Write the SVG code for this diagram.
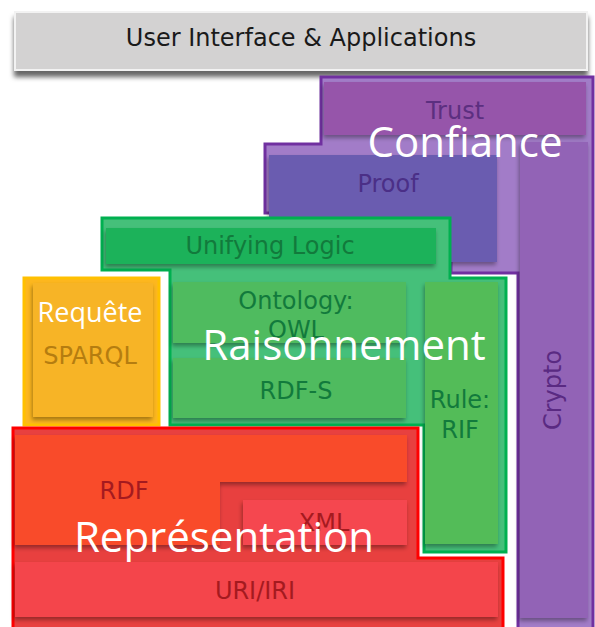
<svg xmlns="http://www.w3.org/2000/svg" width="595" height="627" viewBox="0 0 595 627">
<style>
.lbl{font-family:"DejaVu Sans",Verdana,sans-serif;font-size:24px;text-anchor:middle}
.big{font-family:"Open Sans","Noto Sans",sans-serif;font-size:42px;fill:#ffffff;text-anchor:middle}
.pur{fill:#5c2f80}
.grn{fill:#127a3c}
.red{fill:#a51a1f}
</style>
<defs>
<filter id="sh" x="-10%" y="-10%" width="120%" height="130%">
<feDropShadow dx="-1" dy="3" stdDeviation="2" flood-color="#000" flood-opacity="0.35"/>
</filter>
<filter id="shg" x="-5%" y="-20%" width="110%" height="160%">
<feDropShadow dx="0" dy="6" stdDeviation="2.5" flood-color="#000" flood-opacity="0.6"/>
</filter>
</defs>
<rect width="595" height="627" fill="#ffffff"/>

<g id="ui">
<rect x="15" y="12" width="572" height="58" fill="#d3d2d2" stroke="#f2f2f2" stroke-width="2" filter="url(#shg)"/>
<text x="301" y="46" class="lbl" style="font-size:24px" fill="#1a1a1a">User Interface &amp; Applications</text>
</g>

<g id="confiance">
<polygon points="321,77 593,77 593,630 518,630 518,273 451,273 451,213 265,213 265,144 321,144" fill="#a27cc8" stroke="#7030a0" stroke-width="3"/>
<rect id="trust" x="324" y="82" width="262" height="53" fill="#9655aa" filter="url(#sh)"/>
<rect id="crypto" x="520" y="142" width="68" height="476" fill="#9264b6" filter="url(#sh)"/>
<rect id="proof" x="269" y="155" width="228" height="107" fill="#6b5cb0" filter="url(#sh)"/>
<text x="455" y="119" class="lbl pur">Trust</text>
<text x="388" y="192" class="lbl" fill="#4b2f87">Proof</text>
<text transform="translate(561,390) rotate(-90)" class="lbl" fill="#5a2a82">Crypto</text>
<text x="465" y="157" class="big">Confiance</text>
</g>

<g id="raisonnement">
<polygon points="102,218 450,218 450,278 506,278 506,552 424,552 424,425 170,425 170,270 102,270" fill="#45c07a" stroke="#00b050" stroke-width="3"/>
<rect id="logic" x="106" y="228" width="330" height="36" fill="#1fb25a" filter="url(#sh)"/>
<rect id="owl" x="173" y="282" width="233" height="61" fill="#4fbb5e" filter="url(#sh)"/>
<rect id="rdfs" x="173" y="358" width="233" height="60" fill="#4fbb5e" filter="url(#sh)"/>
<rect id="rif" x="425" y="282" width="73" height="262" fill="#52bc58" filter="url(#sh)"/>
<text x="270" y="254" class="lbl grn">Unifying Logic</text>
<text x="296" y="309" class="lbl grn">Ontology:</text>
<text x="296" y="338" class="lbl grn">OWL</text>
<text x="296" y="399" class="lbl grn">RDF-S</text>
<text x="460" y="408" class="lbl grn">Rule:</text>
<text x="460" y="438" class="lbl grn">RIF</text>
<text x="344" y="360" class="big">Raisonnement</text>
</g>

<g id="requete">
<rect x="24" y="278" width="135" height="147" fill="#fdb71e" stroke="#ffc000" stroke-width="3"/>
<rect x="33" y="283" width="120" height="134" fill="#f7b425" filter="url(#sh)"/>
<text x="90" y="322" class="big" style="font-size:27px">Requête</text>
<text x="90" y="364" class="lbl" fill="#b57d10">SPARQL</text>
</g>

<g id="representation">
<polygon points="13,428 418,428 418,558 503,558 503,630 13,630" fill="#e8403f" stroke="#ff0000" stroke-width="3"/>
<polygon points="15,435 407,435 407,482 220,482 220,545 15,545" fill="#f94b2b" filter="url(#sh)"/>
<rect x="243" y="500" width="164" height="45" fill="#f5474f" filter="url(#sh)"/>
<rect x="15" y="562" width="483" height="55" fill="#f4444b" filter="url(#sh)"/>
<text x="124" y="499" class="lbl red">RDF</text>
<text x="324" y="531" class="lbl red">XML</text>
<text x="255" y="599" class="lbl red">URI/IRI</text>
<text x="224" y="552" class="big">Représentation</text>
</g>
</svg>
